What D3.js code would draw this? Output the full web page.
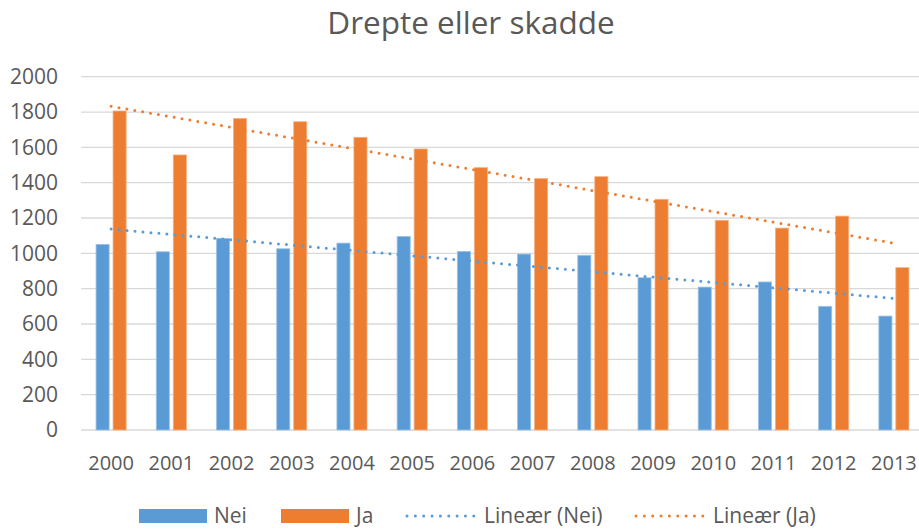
<!DOCTYPE html>
<html>
<head>
<meta charset="utf-8">
<script src="https://cdn.jsdelivr.net/npm/d3@7"></script>
<style>
  body { margin: 0; background: #fff; }
  svg { display: block; font-family: "Open Sans", sans-serif; }
</style>
</head>
<body>
<svg id="chart" width="919" height="529"></svg>
<script>
(function () {

    // data
    var years = ["2000", "2001", "2002", "2003", "2004", "2005", "2006",
                 "2007", "2008", "2009", "2010", "2011", "2012", "2013"];
    var nei = [1051, 1009, 1085, 1026, 1058, 1096, 1011, 996, 989, 862, 809, 838, 700, 645];
    var ja  = [1806, 1557, 1764, 1745, 1657, 1591, 1485, 1423, 1434, 1306, 1187, 1143, 1211, 919];
    var yTicks = [0, 200, 400, 600, 800, 1000, 1200, 1400, 1600, 1800, 2000];
    var seriesNames = ["Nei", "Ja"];
    var colors = {Nei: "#5b9bd5", Ja: "#ed7d31"};
    var edges = {Nei: "#9dc3e6", Ja: "#f4b183"};

    var svg = d3.select("#chart"),
        textColor = "#595959";

    var x = d3.scaleBand().domain(years).range([81, 924])
            .paddingInner(0.5).paddingOuter(0.25);
    var xs = d3.scaleBand().domain(seriesNames).range([0, x.bandwidth()])
            .paddingInner(0.23);
    var y = d3.scaleLinear().domain([0, 2000]).range([430, 76.7]);

    // title
    svg.append("text")
        .attr("x", 471)
        .attr("y", 34)
        .style("text-anchor", "middle")
        .style("font-size", "31.5px")
        .style("fill", textColor)
        .text("Drepte eller skadde");

    // gridlines
    svg.append("g").selectAll("line")
        .data(yTicks)
        .enter().append("line")
        .attr("x1", 81).attr("x2", 924)
        .attr("y1", function (d) { return y(d); })
        .attr("y2", function (d) { return y(d); })
        .style("stroke", "#d9d9d9")
        .style("stroke-width", 1.3);

    // y axis labels
    var yAxis = d3.axisLeft(y).tickValues(yTicks).tickFormat(d3.format("d"))
            .tickSize(0).tickPadding(0);
    var gy = svg.append("g").attr("transform", "translate(58,0)").call(yAxis);
    gy.select(".domain").remove();
    gy.selectAll("text")
        .style("font-family", "Open Sans, sans-serif")
        .style("font-size", "21px")
        .style("fill", textColor);

    // x axis labels
    var xAxis = d3.axisBottom(x).tickSize(0).tickPadding(0);
    var gx = svg.append("g").attr("transform", "translate(0,456)").call(xAxis);
    gx.select(".domain").remove();
    gx.selectAll("text")
        .style("font-family", "Open Sans, sans-serif")
        .style("font-size", "20px")
        .style("fill", textColor);

    // bars
    var rows = years.map(function (yr, i) {
        return {year: yr, Nei: nei[i], Ja: ja[i]};
    });
    var groups = svg.append("g").selectAll("g")
        .data(rows)
        .enter().append("g")
        .attr("transform", function (d) { return "translate(" + x(d.year) + ",0)"; });

    groups.selectAll("rect")
        .data(function (d) {
            return seriesNames.map(function (k) { return {key: k, value: d[k]}; });
        })
        .enter().append("rect")
        .attr("x", function (d) { return xs(d.key); })
        .attr("width", xs.bandwidth())
        .attr("y", function (d) { return y(d.value); })
        .attr("height", function (d) { return y(0) - y(d.value); })
        .style("fill", function (d) { return colors[d.key]; })
        .style("stroke", function (d) { return edges[d.key]; })
        .style("stroke-width", 0.8);

    // linear trendlines (least squares over the year index)
    function trend(vals) {
        var n = vals.length,
            mx = (n - 1) / 2,
            my = d3.mean(vals),
            sxy = 0, sxx = 0;
        vals.forEach(function (v, i) {
            sxy += (i - mx) * (v - my);
            sxx += (i - mx) * (i - mx);
        });
        var b = sxy / sxx, a = my - b * mx;
        return [0, n - 1].map(function (i) { return {i: i, v: a + b * i}; });
    }

    var line = d3.line()
        .x(function (d) { return x(years[d.i]) + x.bandwidth() / 2; })
        .y(function (d) { return y(d.v); });

    [["Nei", nei], ["Ja", ja]].forEach(function (s) {
        svg.append("path")
            .datum(trend(s[1]))
            .attr("d", line)
            .style("fill", "none")
            .style("stroke", colors[s[0]])
            .style("stroke-width", 3)
            .style("stroke-linecap", "round")
            .style("stroke-dasharray", "0 8");
    });

    // legend
    var legend = svg.append("g").attr("transform", "translate(0,516)");
    var items = [
        {label: "Nei", key: "Nei", type: "bar", x: 139},
        {label: "Ja", key: "Ja", type: "bar", x: 281},
        {label: "Lineær (Nei)", key: "Nei", type: "line", x: 407},
        {label: "Lineær (Ja)", key: "Ja", type: "line", x: 636}
    ];
    items.forEach(function (it) {
        if (it.type === "bar") {
            legend.append("rect")
                .attr("x", it.x).attr("y", -7)
                .attr("width", 68).attr("height", 14)
                .style("fill", colors[it.key]);
        } else {
            legend.append("line")
                .attr("x1", it.x).attr("x2", it.x + 67)
                .attr("y1", 0).attr("y2", 0)
                .style("stroke", colors[it.key])
                .style("stroke-width", 3)
                .style("stroke-linecap", "round")
                .style("stroke-dasharray", "0 8.35");
        }
        legend.append("text")
            .attr("x", it.x + (it.type === "bar" ? 75 : 77))
            .attr("y", 0)
            .attr("dy", "0.35em")
            .style("font-size", "21px")
            .style("fill", textColor)
            .text(it.label);
    });
}());
</script>
</body>
</html>
